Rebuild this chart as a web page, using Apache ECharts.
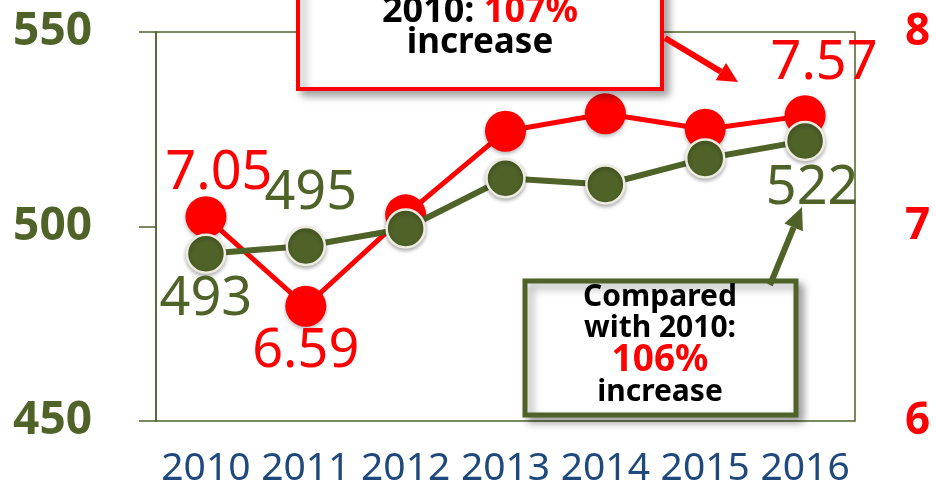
<!DOCTYPE html>
<html>
<head>
<meta charset="utf-8">
<script src="https://cdn.jsdelivr.net/npm/echarts@6/dist/echarts.min.js"></script>
<style>
  html, body { margin: 0; padding: 0; background: #fff; }
  #chart { width: 936px; height: 489px; }
</style>
</head>
<body>
<div id="chart"></div>
<script>
const years = ['2010', '2011', '2012', '2013', '2014', '2015', '2016']
const scoreValues = [493, 495, 499.5, 512.4, 510.8, 517.5, 522]
const rateValues = [7.05, 6.59, 7.06, 7.49, 7.58, 7.50, 7.57]

const GREEN = '#4F6228'
const RED = '#FF0000'
const FONT = 'Noto Sans'

// which points get a value label, and where
const scoreLabels = {
  0: { position: 'bottom', offset: [0, -6] },
  1: { position: 'top', offset: [5, 0] },
  6: { position: 'bottom', offset: [7, -5] }
}
const rateLabels = {
  0: { position: 'top', offset: [13, 9] },
  1: { position: 'bottom', offset: [0, -7] },
  6: { position: 'top', offset: [19, 0] }
}

function buildData(values, labels, color, fmt) {
  return values.map((v, i) => {
    const cfg = labels[i]
    if (!cfg) return v
    return {
      value: v,
      label: {
        show: true,
        position: cfg.position,
        offset: cfg.offset,
        color: color,
        fontSize: 54,
        fontFamily: FONT,
        formatter: fmt
      }
    }
  })
}

function arrow(x1, y1, x2, y2, color, width, headLen, headHalf) {
  const dx = x2 - x1, dy = y2 - y1
  const len = Math.sqrt(dx * dx + dy * dy)
  const ux = dx / len, uy = dy / len
  const bx = x2 - ux * headLen, by = y2 - uy * headLen
  const px = -uy, py = ux
  return [
    {
      type: 'line', z: 100,
      shape: { x1: x1, y1: y1, x2: bx, y2: by },
      style: { stroke: color, lineWidth: width }
    },
    {
      type: 'polygon', z: 100,
      shape: { points: [[x2, y2], [bx + px * headHalf, by + py * headHalf], [bx - px * headHalf, by - py * headHalf]] },
      style: { fill: color }
    }
  ]
}

function boxText(x, y, text, size, color) {
  return {
    type: 'text', z: 101, x: x, y: y,
    style: { text: text, align: 'center', verticalAlign: 'middle', fontSize: size, fontWeight: 'bold', fontFamily: FONT, fill: color }
  }
}

const boxShadow = { shadowBlur: 8, shadowOffsetX: 5, shadowOffsetY: 5, shadowColor: 'rgba(0,0,0,0.35)' }

const chart = echarts.init(document.getElementById('chart'))

const option = {
  animation: false,
  grid: {
    left: 156, right: 81, top: 32, bottom: 68,
    show: true, borderColor: GREEN, borderWidth: 1.5, backgroundColor: 'transparent'
  },
  xAxis: {
    type: 'category',
    data: years,
    boundaryGap: true,
    axisLine: { show: false },
    axisTick: { show: false },
    axisLabel: { interval: 0, hideOverlap: false, color: '#1F497D', fontSize: 39, fontFamily: FONT, margin: 28 }
  },
  yAxis: [
    {
      type: 'value', min: 450, max: 550, interval: 50,
      axisLine: { show: true, lineStyle: { color: GREEN, width: 1.5 } },
      axisTick: { show: true, length: 17, lineStyle: { color: GREEN, width: 1.5 } },
      splitLine: { show: false },
      axisLabel: { color: GREEN, fontSize: 46, fontWeight: 'bold', fontFamily: FONT, margin: 64 }
    },
    {
      type: 'value', min: 6, max: 8, interval: 1,
      position: 'right',
      axisLine: { show: false },
      axisTick: { show: false },
      splitLine: { show: false },
      axisLabel: { color: RED, fontSize: 44, fontWeight: 'bold', fontFamily: FONT, margin: 50 }
    }
  ],
  series: [
    {
      name: 'rate',
      type: 'line',
      yAxisIndex: 1,
      z: 2,
      data: buildData(rateValues, rateLabels, RED, p => p.value.toFixed(2)),
      symbol: 'circle',
      symbolSize: 41,
      lineStyle: { color: RED, width: 5 },
      itemStyle: { color: RED, shadowBlur: 4, shadowOffsetY: 2, shadowColor: 'rgba(0,0,0,0.3)' }
    },
    {
      name: 'score',
      type: 'line',
      yAxisIndex: 0,
      z: 3,
      data: buildData(scoreValues, scoreLabels, GREEN, p => Math.round(p.value)),
      symbol: 'circle',
      symbolSize: 38,
      lineStyle: { color: GREEN, width: 6 },
      itemStyle: { color: GREEN, borderColor: '#EEECE1', borderWidth: 2.5, shadowBlur: 4, shadowOffsetY: 2, shadowColor: 'rgba(0,0,0,0.3)' }
    }
  ],
  graphic: [
    // red callout at the top
    {
      type: 'rect', z: 100,
      shape: { x: 298, y: -40, width: 364, height: 129 },
      style: Object.assign({ fill: '#fff', stroke: RED, lineWidth: 4 }, boxShadow)
    },
    {
      type: 'text', z: 101, x: 480, y: 12,
      style: {
        text: '{b|2010: }{r|107%}',
        align: 'center', verticalAlign: 'middle',
        rich: {
          b: { fontSize: 36, fontWeight: 'bold', fontFamily: FONT, fill: '#000' },
          r: { fontSize: 36, fontWeight: 'bold', fontFamily: FONT, fill: RED }
        }
      }
    },
    boxText(480, 43, 'increase', 35, '#000'),
    ...arrow(665, 38, 738, 82, RED, 6, 20, 10),
    // green callout at the bottom right
    {
      type: 'rect', z: 100,
      shape: { x: 525, y: 281, width: 271, height: 134 },
      style: Object.assign({ fill: '#fff', stroke: GREEN, lineWidth: 5 }, boxShadow)
    },
    boxText(660, 297, 'Compared', 30, '#000'),
    boxText(660, 328, 'with 2010:', 30, '#000'),
    boxText(660, 360, '106%', 37, RED),
    boxText(660, 392, 'increase', 30, '#000'),
    ...arrow(770, 285, 802, 207, GREEN, 6, 22, 10)
  ]
}

chart.setOption(option)
</script>
</body>
</html>
